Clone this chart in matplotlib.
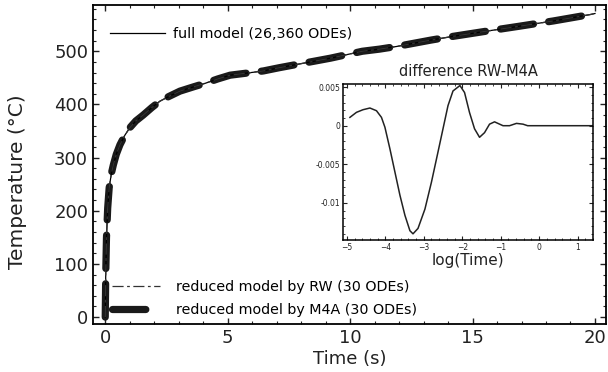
import matplotlib
matplotlib.use("Agg")
import matplotlib.pyplot as plt
from matplotlib.ticker import MultipleLocator, FixedLocator

plt.rcParams['font.family'] = ['DejaVu Sans']
plt.rcParams['lines.scale_dashes'] = False

# main chart data
time_s = [0.0, 0.01, 0.02, 0.05, 0.1, 0.16, 0.25, 0.33, 0.45, 0.6, 0.8, 1.0, 1.25,
          1.55, 1.9, 2.23, 2.6, 3.05, 3.6, 4.1, 4.6, 5.1, 5.8, 6.46, 7.1, 7.8, 8.5,
          9.2, 9.8, 10.5, 11.2, 11.9, 12.6, 13.3, 14.2, 15.6, 16.9, 18.3, 19.8, 20.0]
temp_full = [0, 40, 80, 149, 205, 243, 270, 286, 306, 324, 342, 356, 369,
             380, 394, 406, 415, 425, 433, 440, 448, 455, 459, 463, 469, 475, 481,
             487, 493, 500, 504, 509, 515, 521, 528, 538, 547, 557, 569, 571]
temp_rw = temp_full
temp_m4a = temp_full

# inset data: difference RW - M4A vs log(Time)
log_time = [-4.92, -4.75, -4.58, -4.40, -4.23, -4.10, -4.01, -3.88, -3.75, -3.62,
            -3.49, -3.36, -3.28, -3.15, -2.97, -2.80, -2.63, -2.50, -2.37, -2.24,
            -2.06, -1.94, -1.81, -1.68, -1.55, -1.42, -1.29, -1.16, -0.94, -0.77,
            -0.59, -0.42, -0.30, 0.0, 0.5, 1.0, 1.4]
diff = [0.00108, 0.00173, 0.00207, 0.00229, 0.00194, 0.00108, -0.0002, -0.0030,
        -0.0060, -0.0090, -0.0116, -0.0136, -0.0140, -0.0133, -0.0108, -0.0073,
        -0.0034, -0.0004, 0.0026, 0.0045, 0.0052, 0.0043, 0.0017, -0.0004, -0.0015,
        -0.0009, 0.0002, 0.0005, 0.0, 0.0, 0.0003, 0.0002, 0.0, 0.0, 0.0, 0.0, 0.0]

fig = plt.figure(figsize=(6.08, 3.72), dpi=100)
ax = fig.add_axes([93/608, 1-324/372, (606-93)/608, (324-5)/372])

l_full, = ax.plot(time_s, temp_full, color='black', lw=0.9, zorder=3)
l_m4a, = ax.plot(time_s, temp_m4a, color='#1a1a1a', lw=5.2, zorder=2,
                 dash_capstyle='round', dashes=(24, 11))
l_rw, = ax.plot(time_s, temp_rw, color='#333333', lw=0.9, zorder=4,
                dashes=(8, 2.5, 2, 2.5))

ax.set_xlim(-0.5, 20.45)
ax.set_ylim(-13, 587)
ax.xaxis.set_major_locator(MultipleLocator(5))
ax.xaxis.set_minor_locator(MultipleLocator(1))
ax.yaxis.set_major_locator(MultipleLocator(100))
ax.yaxis.set_minor_locator(MultipleLocator(20))
ax.tick_params(which='both', direction='in', top=True, right=True, labelsize=13,
               colors='#222222')
ax.tick_params(which='major', length=4, width=1)
ax.tick_params(which='minor', length=2.2, width=0.8)
for s in ax.spines.values():
    s.set_linewidth(1.3)
ax.set_xlabel('Time (s)', fontsize=13, labelpad=2, color='#222222')
ax.set_ylabel('Temperature (°C)', fontsize=14.5, color='#222222')
ax.yaxis.set_label_coords(-0.129, 0.445)

leg1 = ax.legend([l_full], ['full model (26,360 ODEs)'], loc='upper left',
                 bbox_to_anchor=(0.033, 0.93), frameon=False, fontsize=10.3,
                 handlelength=3.85, handletextpad=0.56, borderaxespad=0, borderpad=0)
ax.add_artist(leg1)
ax.legend([l_rw, l_m4a], ['reduced model by RW (30 ODEs)', 'reduced model by M4A (30 ODEs)'],
          loc='lower left', bbox_to_anchor=(0.037, 0.022), frameon=False, fontsize=10.3,
          handlelength=3.35, handletextpad=1.12, borderaxespad=0, borderpad=0,
          labelspacing=0.63)

# inset
ins = fig.add_axes([343/608, 1-240/372, (593-343)/608, (240-84)/372])
ins.plot(log_time, diff, color='#222222', lw=1.1)
ins.set_xlim(-5.1, 1.4)
ins.set_ylim(-0.0148, 0.0054)
ins.xaxis.set_major_locator(MultipleLocator(1))
ins.xaxis.set_minor_locator(MultipleLocator(0.2))
ins.yaxis.set_major_locator(FixedLocator([-0.01, -0.005, 0, 0.005]))
ins.yaxis.set_minor_locator(MultipleLocator(0.001))
ins.set_yticklabels(['-0.01', '-0.005', '0', '0.005'])
ins.tick_params(which='both', direction='in', top=True, right=True, labelsize=5.5,
                pad=2, colors='#222222')
ins.tick_params(which='major', length=3, width=0.8)
ins.tick_params(which='minor', length=1.5, width=0.6)
for s in ins.spines.values():
    s.set_linewidth(1.1)
ins.set_title('difference RW-M4A', fontsize=10.5, pad=6, color='#222222')
ins.set_xlabel('log(Time)', fontsize=11, labelpad=1, color='#222222')

fig.savefig('out.png', dpi=100)
